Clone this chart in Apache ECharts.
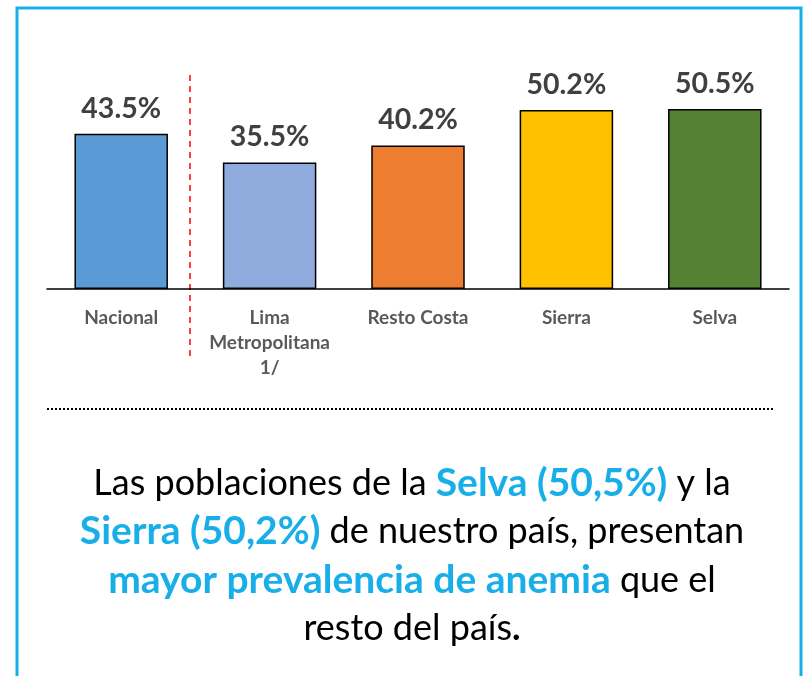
<!DOCTYPE html>
<html>
<head>
<meta charset="utf-8">
<script src="https://cdn.jsdelivr.net/npm/echarts@6/dist/echarts.min.js"></script>
<style>
  html, body { margin: 0; padding: 0; background: #fff; }
  #chart { width: 804px; height: 676px; }
</style>
</head>
<body>
<div id="chart"></div>
<script>
// data
const categories = ['Nacional', 'Lima\nMetropolitana\n1/', 'Resto Costa', 'Sierra', 'Selva'];
const values = [43.5, 35.5, 40.2, 50.2, 50.5];
const barColors = ['#5b9bd5', '#8faadc', '#ed7d31', '#ffc000', '#548235'];

// caption lines, each as [text, highlighted?] pieces
const captionLines = [
  [['Las poblaciones de la ', 0], ['Selva (50,5%)', 1], [' y la', 0]],
  [['Sierra (50,2%)', 1], [' de nuestro país, presentan', 0]],
  [['mayor prevalencia de anemia', 1], [' que el', 0]],
  [['resto del país', 0], ['.', 2]]
];

const font = 'Lato, "Open Sans", sans-serif';
const cyan = '#18afe9';
const capSize = 36;
const boldSize = 39;

const chart = echarts.init(document.getElementById('chart'));

const captionRich = {
  n: { fontFamily: font, fontSize: capSize, fill: '#000' },
  b: { fontFamily: font, fontSize: boldSize, fill: cyan, fontWeight: 'bold' },
  k: { fontFamily: font, fontSize: capSize, fill: '#000', fontWeight: 'bold' }
};
const styleKeys = ['n', 'b', 'k'];

const captionGraphics = captionLines.map((line, i) => ({
  type: 'text',
  x: 412,
  y: 483 + i * 48.5,
  style: {
    text: line.map(([t, s]) => '{' + styleKeys[s] + '|' + t + '}').join(''),
    align: 'center',
    verticalAlign: 'middle',
    fontFamily: font,
    fontSize: capSize,
    rich: captionRich
  }
}));

const option = {
  animation: false,
  grid: {
    left: 47,
    right: 15,
    top: 75,
    bottom: 387
  },
  xAxis: {
    type: 'category',
    data: categories,
    axisTick: { show: false },
    axisLine: { lineStyle: { color: '#000', width: 1.5 } },
    axisLabel: {
      margin: 16,
      interval: 0,
      fontFamily: font,
      fontWeight: 'bold',
      fontSize: 19,
      lineHeight: 25,
      color: '#595959'
    }
  },
  yAxis: {
    type: 'value',
    min: 0,
    max: 60,
    show: false,
    splitLine: { show: false }
  },
  series: [
    {
      type: 'bar',
      barCategoryGap: '37%',
      data: values.map((v, i) => ({
        value: v,
        itemStyle: { color: barColors[i] }
      })),
      itemStyle: { borderColor: '#000', borderWidth: 1.5 },
      label: {
        show: true,
        position: 'top',
        distance: 11,
        formatter: p => p.value.toFixed(1) + '%',
        fontFamily: font,
        fontWeight: 'bold',
        fontSize: 28.5,
        color: '#404040'
      }
    }
  ],
  graphic: [
    {
      type: 'rect',
      shape: { x: 17, y: 8, width: 784, height: 720 },
      style: { fill: 'none', stroke: cyan, lineWidth: 3 }
    },
    {
      type: 'line',
      shape: { x1: 190, y1: 75, x2: 190, y2: 359 },
      style: { stroke: '#ff0000', lineWidth: 1.5, lineDash: [6, 5] }
    },
    {
      type: 'line',
      shape: { x1: 47, y1: 409, x2: 773, y2: 409 },
      style: { stroke: '#000', lineWidth: 2, lineDash: [2, 2] }
    }
  ].concat(captionGraphics)
};

chart.setOption(option);
</script>
</body>
</html>
